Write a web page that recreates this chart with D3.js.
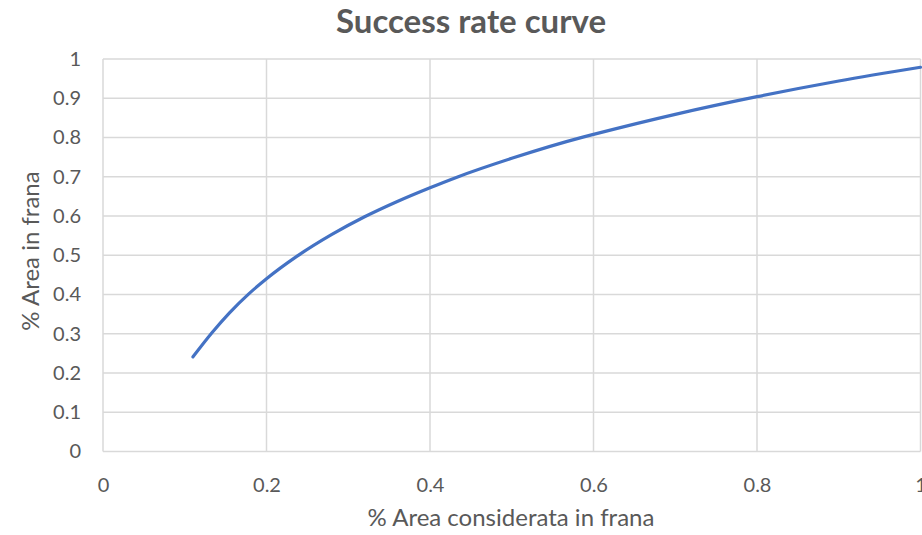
<!DOCTYPE html>
<html>
<head>
<meta charset="utf-8">
<script src="https://cdn.jsdelivr.net/npm/d3@7"></script>
<style>
  html, body { margin: 0; padding: 0; background: #fff; }
  svg { display: block; }
</style>
</head>
<body>
<div id="chart"></div>
<script>
// Success rate curve
const X_AREA = [0.110, 0.133, 0.155, 0.178, 0.200, 0.237, 0.280, 0.320, 0.360, 0.400, 0.433, 0.500, 0.587, 0.600, 0.700, 0.800, 0.900, 1.000];
const Y_FRANA = [0.241, 0.302, 0.354, 0.401, 0.440, 0.497, 0.553, 0.598, 0.637, 0.672, 0.699, 0.747, 0.801, 0.808, 0.859, 0.904, 0.944, 0.979];
const X_TICKS = [0, 0.2, 0.4, 0.6, 0.8, 1];
const Y_TICKS = [0, 0.1, 0.2, 0.3, 0.4, 0.5, 0.6, 0.7, 0.8, 0.9, 1];

const W = 922, H = 535;
const m = { t: 59, r: 1.5, b: 83.5, l: 103 };
const FONT = 'Lato, "Open Sans", sans-serif';
const TXT = '#595959';
const GRID = '#D9D9D9';

const svg = d3.select('#chart').append('svg')
  .attr('width', W).attr('height', H)
  .attr('viewBox', `0 0 ${W} ${H}`);

const x = d3.scaleLinear().domain([0, 1]).range([m.l, W - m.r]);
const y = d3.scaleLinear().domain([0, 1]).range([H - m.b, m.t]);

// grid
svg.append('g').selectAll('line.h').data(Y_TICKS).join('line')
  .attr('x1', m.l).attr('x2', W - m.r)
  .attr('y1', d => y(d)).attr('y2', d => y(d))
  .attr('stroke', GRID).attr('stroke-width', 1.5);
svg.append('g').selectAll('line.v').data(X_TICKS).join('line')
  .attr('y1', m.t).attr('y2', H - m.b)
  .attr('x1', d => x(d)).attr('x2', d => x(d))
  .attr('stroke', GRID).attr('stroke-width', 1.5);

// axes (labels only, Excel style)
const xAxis = svg.append('g').attr('transform', `translate(0,${H - m.b})`)
  .call(d3.axisBottom(x).tickValues(X_TICKS).tickFormat(d3.format('~g')).tickSize(0).tickPadding(26));
const yAxis = svg.append('g').attr('transform', `translate(${m.l},0)`)
  .call(d3.axisLeft(y).tickValues(Y_TICKS).tickFormat(d3.format('~g')).tickSize(0).tickPadding(22));
[xAxis, yAxis].forEach(g => {
  g.select('.domain').remove();
  g.selectAll('text').attr('font-family', FONT).attr('font-size', 20).attr('fill', TXT);
});

// series
const pts = X_AREA.map((v, i) => [v, Y_FRANA[i]]);
svg.append('path')
  .datum(pts)
  .attr('fill', 'none')
  .attr('stroke', '#4472C4')
  .attr('stroke-width', 3.2)
  .attr('stroke-linecap', 'round')
  .attr('d', d3.line().x(d => x(d[0])).y(d => y(d[1])).curve(d3.curveMonotoneX));

// titles
svg.append('text')
  .attr('x', 471).attr('y', 33)
  .attr('text-anchor', 'middle')
  .attr('font-family', FONT).attr('font-weight', 700)
  .attr('font-size', 33).attr('fill', TXT)
  .text('Success rate curve');
svg.append('text')
  .attr('x', 511).attr('y', 526)
  .attr('text-anchor', 'middle')
  .attr('font-family', FONT).attr('font-size', 24).attr('fill', TXT)
  .text('% Area considerata in frana');
svg.append('text')
  .attr('transform', `translate(39,251) rotate(-90)`)
  .attr('text-anchor', 'middle')
  .attr('font-family', FONT).attr('font-size', 24).attr('fill', TXT)
  .text('% Area in frana');
</script>
</body>
</html>
